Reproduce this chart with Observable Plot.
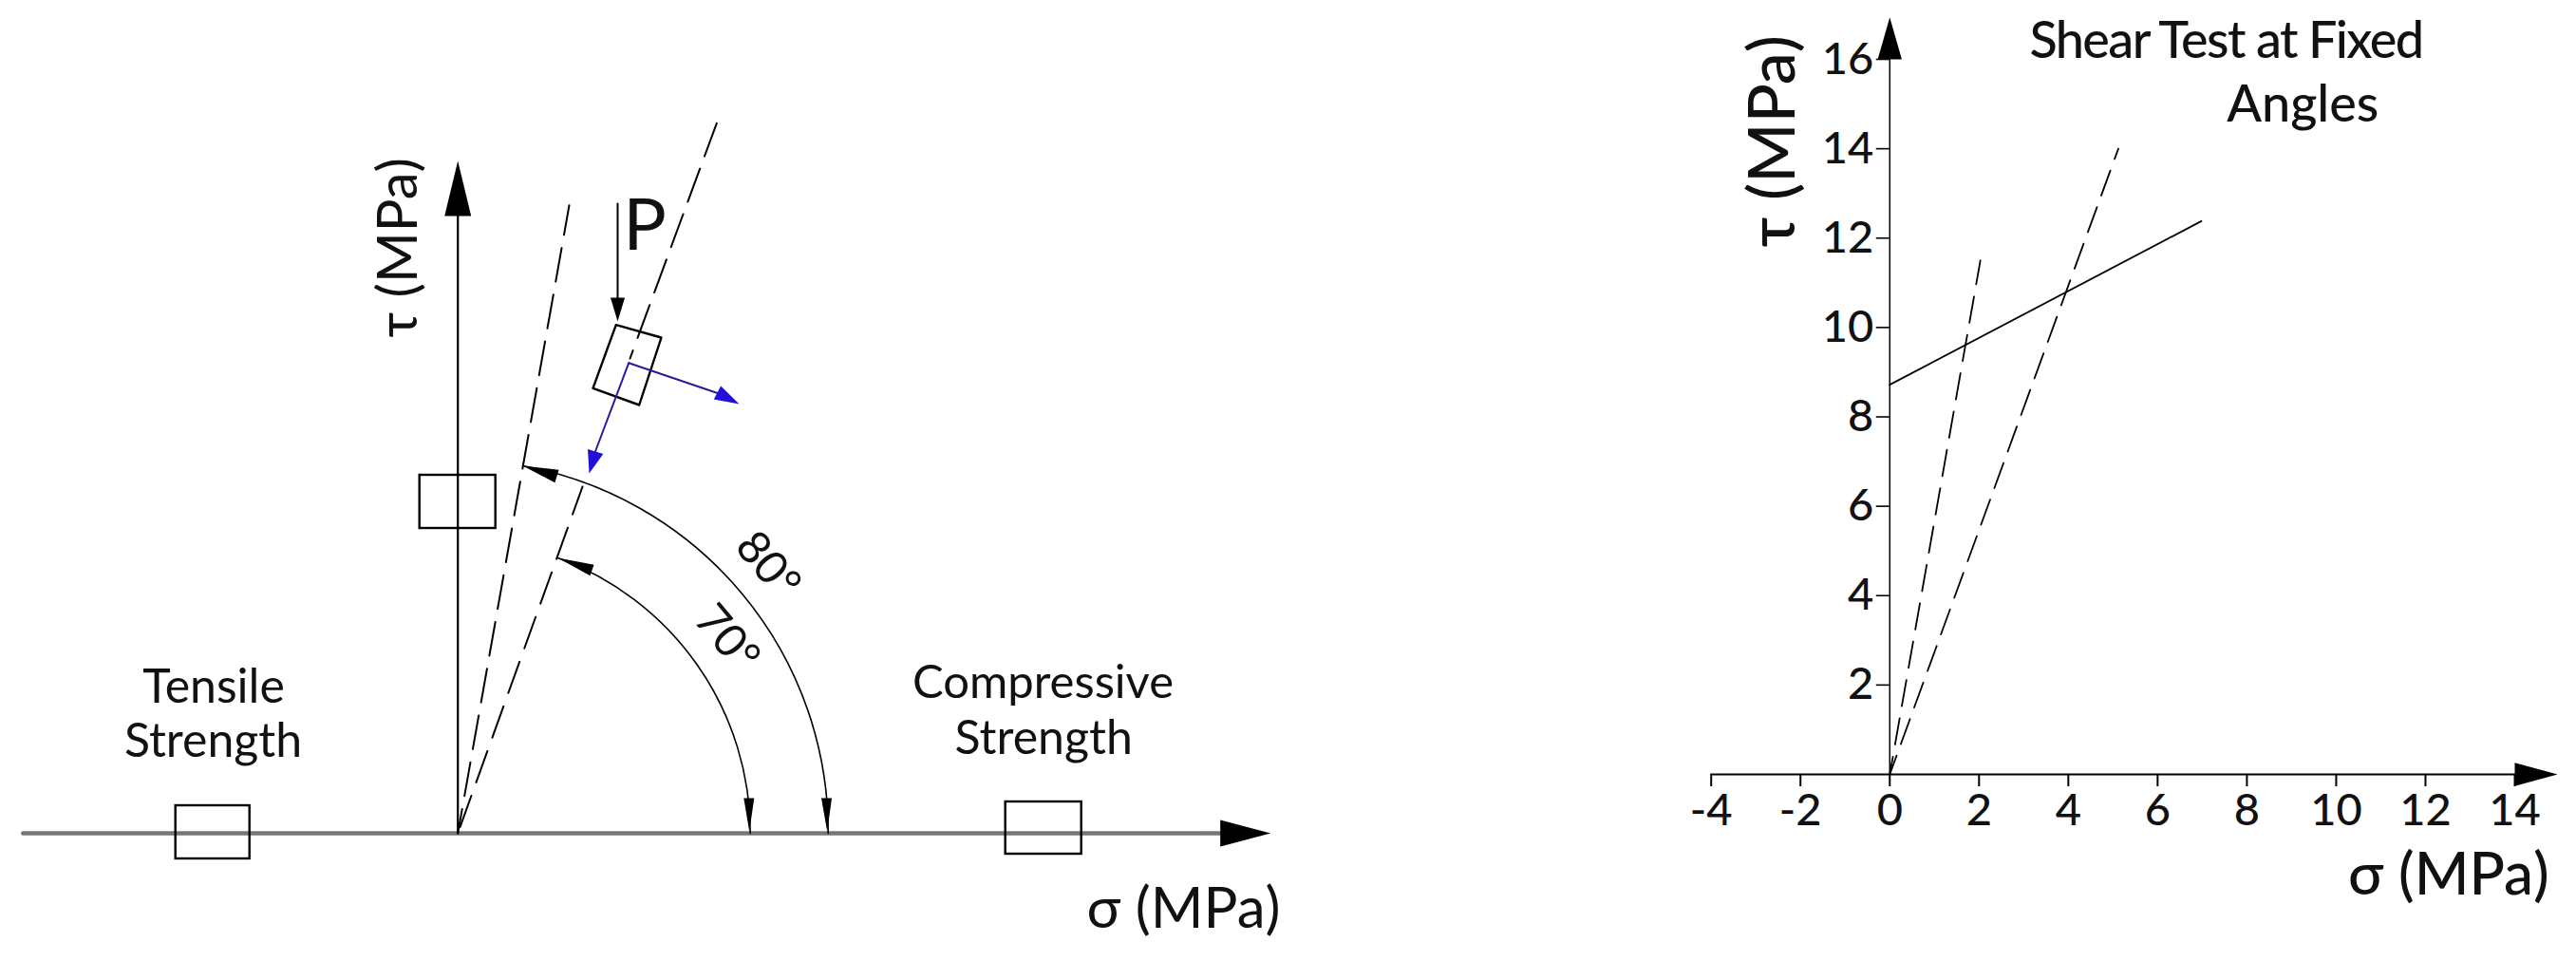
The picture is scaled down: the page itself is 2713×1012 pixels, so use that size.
<!DOCTYPE html>
<html>
<head>
<meta charset="utf-8">
<script src="https://cdn.jsdelivr.net/npm/d3@7"></script>
<script src="https://cdn.jsdelivr.net/npm/@observablehq/plot@0.6"></script>
<style>
  html, body { margin: 0; padding: 0; background: #fff; }
  #stage { position: relative; width: 2713px; height: 1012px; overflow: hidden; background: #fff; }
  #left { position: absolute; left: 0; top: 0; filter: blur(0.5px); }
  #right { position: absolute; left: 1750px; top: 0; }
</style>
</head>
<body>
<div id="stage"><div id="left"></div><div id="right"></div></div>
<script>
// ---- Right panel: shear test at fixed angles (MPa) ----
const sigmaTicks = [-4, -2, 0, 2, 4, 6, 8, 10, 12, 14];
const tauTicks = [2, 4, 6, 8, 10, 12, 14, 16];
const failureSigma = [0, 6.98];
const failureTau = [8.72, 12.38];
const ray80Sigma = [0, 2.03];
const ray80Tau = [0, 11.5];
const ray70Sigma = [0, 5.12];
const ray70Tau = [0, 14.0];
const titleLines = ["Shear Test at Fixed", "Angles"];
const sigmaLabel = "σ (MPa)";
const tauLabel = "τ (MPa)";

// ---- Left panel: schematic (arbitrary units) ----
const schemBoxes = [
  {x1: -0.40, x2: 0.40, y1: 3.21, y2: 3.77},
  {x1: -2.97, x2: -2.19, y1: -0.27, y2: 0.29},
  {x1: 5.77, x2: 6.57, y1: -0.22, y2: 0.33}
];
const tiltedBoxSigma = [1.666, 2.143, 1.91, 1.423, 1.666];
const tiltedBoxTau = [5.353, 5.22, 4.51, 4.687, 5.353];
const blackHeads = [
  {tip: [8.56, 0], base: [8.03, 0], hw: 0.14},
  {tip: [0, 7.08], base: [0, 6.50], hw: 0.14},
  {tip: [1.683, 5.39], base: [1.683, 5.64], hw: 0.075},
  {tip: [3.89, 0.02], base: [3.883, 0.37], hw: 0.055},
  {tip: [3.07, 0.02], base: [3.066, 0.37], hw: 0.055},
  {tip: [0.683, 3.87], base: [1.043, 3.76], hw: 0.07},
  {tip: [1.053, 2.90], base: [1.413, 2.77], hw: 0.06}
];
const blueHeads = [
  {tip: [2.963, 4.52], base: [2.733, 4.64], hw: 0.08},
  {tip: [1.383, 3.79], base: [1.45, 4.02], hw: 0.085}
];
const rightHeads = [
  {tip: [14.96, 0], base: [14, 0], hw: 0.26},
  {tip: [0, 16.94], base: [0, 16], hw: 0.27}
];
const arc80 = {x1: 3.90, y1: 0, x2: 0.683, y2: 3.87};
const arc70 = {x1: 3.08, y1: 0, x2: 1.053, y2: 2.90};

function headPolygons(heads) {
  return heads.flatMap((h, id) => {
    const dx = h.tip[0] - h.base[0], dy = h.tip[1] - h.base[1];
    const n = Math.hypot(dx, dy), px = -dy / n * h.hw, py = dx / n * h.hw;
    return [
      {id, x: h.tip[0], y: h.tip[1]},
      {id, x: h.base[0] + px, y: h.base[1] + py},
      {id, x: h.base[0] - px, y: h.base[1] - py},
      {id, x: h.tip[0], y: h.tip[1]}
    ];
  });
}
const heads = (list, color) => Plot.line(headPolygons(list), {x: "x", y: "y", z: "id", fill: color, stroke: "none", curve: "linear"});
const seg = (xs, ys, opts) => Plot.line(xs.map((x, i) => ({x, y: ys[i]})), {x: "x", y: "y", curve: "linear", ...opts});
const label = (text, x, y, opts) => Plot.text([text], {x: () => x, y: () => y, text: d => d, fill: "#111", lineAnchor: "bottom", ...opts});
const arc = (a, bend) => Plot.arrow([a], {x1: "x1", y1: "y1", x2: "x2", y2: "y2", bend, headLength: 0, stroke: "#000", strokeWidth: 1.6});

const leftChart = Plot.plot({
  width: 1400, height: 1012, margin: 0,
  x: {domain: [-4.817, 9.183], range: [0, 1400], axis: null},
  y: {domain: [-1.35, 8.77], range: [1012, 0], axis: null},
  style: {fontFamily: "Lato, sans-serif", background: "#fff", overflow: "visible"},
  marks: [
    seg([-4.58, 8.1], [0, 0], {stroke: "#777", strokeWidth: 4.5}),
    seg([0, 0], [0, 6.55], {stroke: "#000", strokeWidth: 2.2}),
    seg([0, 1.173], [0, 6.613], {stroke: "#000", strokeWidth: 2, strokeDasharray: "36 14", strokeDashoffset: 10}),
    seg([0, 1.313], [0, 3.65], {stroke: "#000", strokeWidth: 2, strokeDasharray: "35 15", strokeDashoffset: 43}),
    seg([2.726, 1.813], [7.477, 5.0], {stroke: "#000", strokeWidth: 2, strokeDasharray: "37 14"}),
    Plot.rect(schemBoxes, {x1: "x1", x2: "x2", y1: "y1", y2: "y2", fill: "none", stroke: "#000", strokeWidth: 2.4}),
    seg(tiltedBoxSigma, tiltedBoxTau, {stroke: "#000", strokeWidth: 2.4}),
    seg([1.683, 1.683], [6.63, 5.6], {stroke: "#000", strokeWidth: 2}),
    seg([1.80, 2.75], [4.953, 4.63], {stroke: "#2a1a9c", strokeWidth: 2}),
    seg([1.80, 1.44], [4.953, 4.0], {stroke: "#2a1a9c", strokeWidth: 2}),
    arc(arc80, -40),
    arc(arc70, -35),
    heads(blackHeads, "#000"),
    heads(blueHeads, "#2010d8"),
    label("Tensile", -2.572, 1.38, {fontSize: 50}),
    label("Strength", -2.577, 0.81, {fontSize: 50}),
    label("Compressive", 6.163, 1.43, {fontSize: 49}),
    label("Strength", 6.17, 0.84, {fontSize: 50}),
    label(sigmaLabel, 8.663, -0.99, {fontSize: 60, textAnchor: "end"}),
    label(tauLabel, -0.437, 5.22, {fontSize: 58, rotate: -90, textAnchor: "start"}),
    label("P", 1.74, 6.15, {fontSize: 76, textAnchor: "start"}),
    label("80°", 3.263, 2.82, {fontSize: 48, rotate: 50, lineAnchor: "middle"}),
    label("70°", 2.833, 2.05, {fontSize: 48, rotate: 50, lineAnchor: "middle"})
  ]
});
document.getElementById("left").append(leftChart);

const rightChart = Plot.plot({
  width: 963, height: 1012,
  marginLeft: 51.7, marginRight: 65, marginTop: 62, marginBottom: 197,
  x: {domain: [-4, 14]},
  y: {domain: [0, 16]},
  style: {fontFamily: "Lato, sans-serif", fontWeight: 500, background: "#fff", overflow: "visible", color: "#111"},
  marks: [
    Plot.axisX({ticks: sigmaTicks, tickSize: 13, tickPadding: 7, fontSize: 47, label: null, tickFormat: d => String(d), strokeWidth: 2, stroke: "#000"}),
    Plot.axisY({x: 0, ticks: tauTicks, tickSize: 14, tickPadding: 3, fontSize: 47, label: null, tickFormat: d => String(d), strokeWidth: 1.6, stroke: "#000"}),
    seg([-4, 14.1], [0, 0], {stroke: "#000", strokeWidth: 2}),
    seg([0, 0], [0, 16.1], {stroke: "#000", strokeWidth: 1.5}),
    seg(failureSigma, failureTau, {stroke: "#000", strokeWidth: 1.8}),
    seg(ray80Sigma, ray80Tau, {stroke: "#000", strokeWidth: 1.8, strokeDasharray: "28 13", strokeDashoffset: 9}),
    seg(ray70Sigma, ray70Tau, {stroke: "#000", strokeWidth: 1.8, strokeDasharray: "28 13", strokeDashoffset: 7}),
    heads(rightHeads, "#000"),
    label(titleLines[0], 3.13, 16.03, {fontSize: 54, textAnchor: "start"}),
    label(titleLines[1], 7.55, 14.6, {fontSize: 54, textAnchor: "start"}),
    label(sigmaLabel, 14.77, -2.68, {fontSize: 62, textAnchor: "end"}),
    label(tauLabel, -2.13, 11.8, {fontSize: 68, rotate: -90, textAnchor: "start"})
  ]
});
document.getElementById("right").append(rightChart);
d3.select(rightChart).selectAll("text")
  .filter(function () { return this.textContent === titleLines[0]; })
  .style("letter-spacing", "-1.6px");
</script>
</body>
</html>
